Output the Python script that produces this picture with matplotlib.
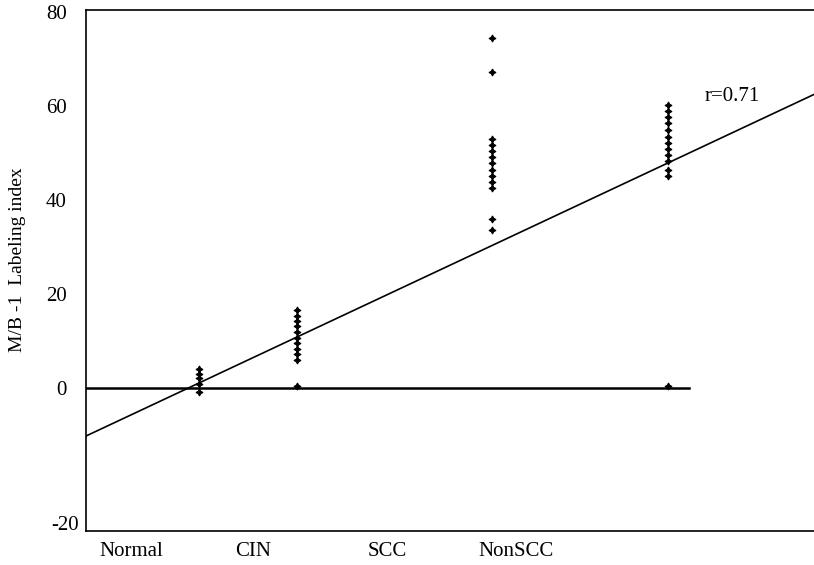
import matplotlib
matplotlib.use("Agg")
import matplotlib.pyplot as plt
from matplotlib.transforms import ScaledTranslation

# category labels and where they sit on the x scale
categories = ["Normal", "CIN", "SCC", "NonSCC"]
category_ticks = [1.0, 1.945, 2.98, 3.985]

# x position of each group's column of points
group_x = [1.525, 2.284, 3.795, 5.158]

normal = [4.0, 3.0, 2.1, 0.9, -0.9]
cin = [16.6, 15.4, 14.2, 13.1, 11.9, 10.7, 9.5, 8.3, 7.2, 6.0, 0.4]
scc = [74.5, 67.3, 53.0, 51.7, 50.4, 49.2, 47.9, 46.4, 45.1, 43.8, 42.6, 36.0, 33.6]
nonscc = [60.2, 58.9, 57.7, 56.4, 54.9, 53.4, 52.1, 50.8, 49.6, 48.3, 46.4, 45.1, 0.4]
groups = [normal, cin, scc, nonscc]

# fitted line
fit_intercept = -18.57
fit_slope = 12.88
r_text = "r=0.71"

y_ticks = [80, 60, 40, 20, 0, -28.6]
y_tick_labels = ["80", "60", "40", "20", "0", "-20"]

plt.rcParams["font.family"] = ["Liberation Serif", "DejaVu Serif"]

fig = plt.figure(figsize=(8.14, 5.65), dpi=100)
ax = fig.add_axes([0.1057, 0.0602, 0.8943, 0.9221])

x_lo, x_hi = 0.65, 6.29
ax.set_xlim(x_lo, x_hi)
ax.set_ylim(-30.4, 80.4)

for gx, vals in zip(group_x, groups):
    ax.plot([gx] * len(vals), vals, linestyle="none", marker=(4, 1, 0),
            markersize=5, color="black", markeredgewidth=0.8)

ax.plot([x_lo, x_hi], [fit_intercept + fit_slope * x_lo, fit_intercept + fit_slope * x_hi],
        color="black", linewidth=1.2)
ax.plot([x_lo, 5.32], [0, 0], color="black", linewidth=1.8)

ax.text(5.44, 61.9, r_text, fontsize=15, va="center", ha="left")

ax.set_xticks(category_ticks)
ax.set_xticklabels(categories, fontsize=15)
ax.set_yticks(y_ticks)
ax.set_yticklabels(y_tick_labels, fontsize=15)
ax.tick_params(axis="both", length=0)
ax.tick_params(axis="x", pad=8)
ax.tick_params(axis="y", pad=14)

# the bottom label sits closer to the axis in the original
lbl = ax.get_yticklabels()[-1]
lbl.set_transform(lbl.get_transform() + ScaledTranslation(0.12, 0, fig.dpi_scale_trans))

ax.set_ylabel("M/B -1  Labeling index", fontsize=14)
ax.yaxis.set_label_coords(-0.083, 0.52)

ax.spines["right"].set_visible(False)
for s in ["left", "bottom", "top"]:
    ax.spines[s].set_linewidth(1.2)

fig.savefig("out.png", dpi=100)
